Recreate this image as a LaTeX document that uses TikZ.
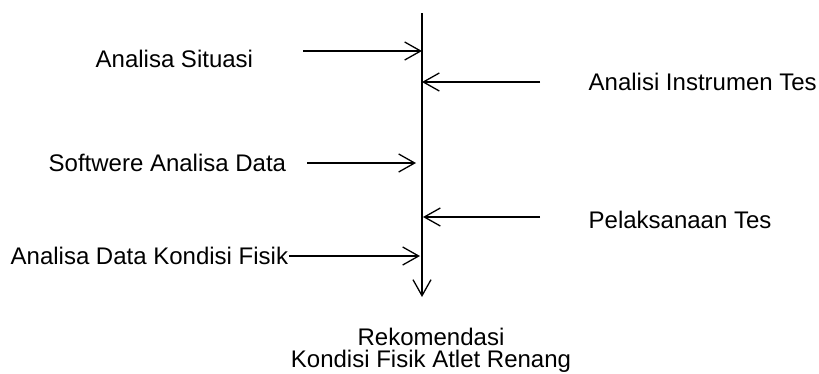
\documentclass[tikz,border=0pt]{standalone}
\usepackage{fontspec}
\setmainfont{Liberation Sans}
\usetikzlibrary{arrows.meta}

\begin{document}
\begin{tikzpicture}[x=1pt,y=-1pt,>={Straight Barb[length=16pt,width=18pt]},line width=1.3pt,
	lbl/.style={inner sep=0pt,anchor=base west,font=\fontsize{24}{22}\selectfont}]
	\useasboundingbox (0,0) rectangle (819,373);
	\coordinate (top) at (422,13);
	\coordinate (bot) at (422,297);
	\node[lbl] (situasi) at (95,67) {Analisa Situasi};
	\node[lbl] (instrumen) at (588,90) {Analisi Instrumen Tes};
	\node[lbl] (software) at (48,171) {Softwere Analisa Data};
	\node[lbl] (pelaksanaan) at (588,228) {Pelaksanaan Tes};
	\node[lbl] (kondisi) at (10,264) {Analisa Data Kondisi Fisik};
	\node[inner sep=0pt,align=center,font=\fontsize{24}{22}\selectfont] (rekomendasi) at (431,350)
		{Rekomendasi\\Kondisi Fisik Atlet Renang};
	\coordinate (s1) at (303,51);  \coordinate (e1) at (422,51);
	\coordinate (s2) at (540,82);  \coordinate (e2) at (422,82);
	\coordinate (s3) at (307,163); \coordinate (e3) at (416,163);
	\coordinate (s4) at (540,217); \coordinate (e4) at (423,217);
	\coordinate (e5) at (420,256);
	\path[->]
	(top) edge (bot)
	(s1) edge (e1)
	(s2) edge (e2)
	(s3) edge (e3)
	(s4) edge (e4)
	(kondisi.east |- e5) edge (e5);
\end{tikzpicture}
\end{document}
